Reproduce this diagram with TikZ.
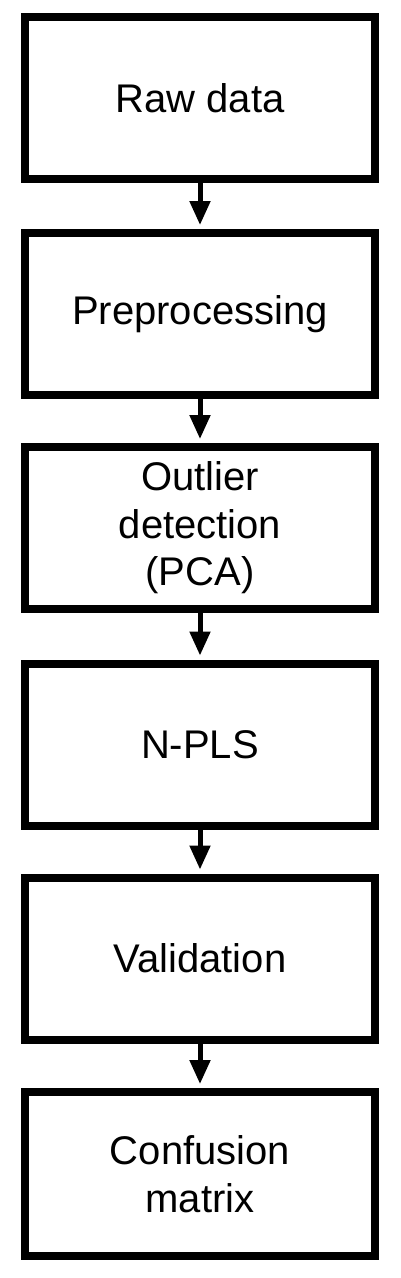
\documentclass[tikz,border=0pt]{standalone}
\usepackage{fontspec}
\setmainfont{Liberation Sans}
\usetikzlibrary{arrows.meta}
\begin{document}
\begin{tikzpicture}[x=1pt,y=-1pt,
  stepbox/.style={draw=black,line width=8pt,minimum width=350pt,minimum height=162pt,
    inner sep=0pt,align=center,font=\fontsize{40}{47.5}\selectfont,text=black},
  flow/.style={line width=5pt,-{Triangle[width=20pt,length=24pt]},shorten >=4pt}]
\useasboundingbox (0,0) rectangle (400,1278);
\node[stepbox] (b1) at (200,98) {Raw data};
\node[stepbox] (b2) at (200,314) {Preprocessing};
\node[stepbox] (b3) at (200,528) {Outlier\\detection\\(PCA)};
\node[stepbox] (b4) at (200,744.5) {N-PLS};
\node[stepbox] (b5) at (200,958.5) {Validation};
\node[stepbox,minimum height=164pt] (b6) at (200,1174) {Confusion\\matrix};
\draw[flow] (b1.south) -- (b2.north);
\draw[flow] (b2.south) -- (b3.north);
\draw[flow] (b3.south) -- (b4.north);
\draw[flow] (b4.south) -- (b5.north);
\draw[flow] (b5.south) -- (b6.north);
\end{tikzpicture}
\end{document}
